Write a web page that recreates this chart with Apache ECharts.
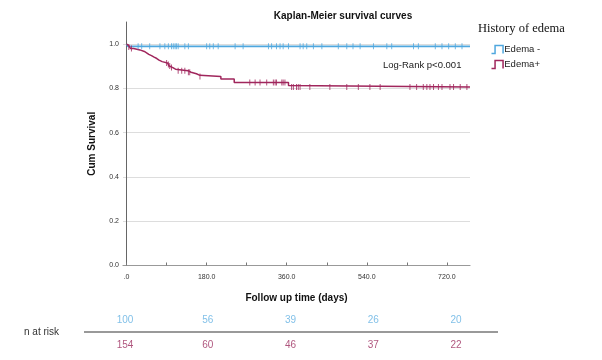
<!DOCTYPE html>
<html><head><meta charset="utf-8">
<script src="https://cdn.jsdelivr.net/npm/echarts@6/dist/echarts.min.js"></script>
<style>html,body{margin:0;padding:0;background:#fff}#c{width:602px;height:360px}</style>
</head><body><div id="c"></div>
<script>
// Kaplan-Meier step data: [time (days), cumulative survival after event]
const edemaNegTimes = [0, 3, 772];
const edemaNegSurv  = [1.0, 0.99, 0.99];
const edemaNegCensor = [26, 34, 52, 75, 86, 94, 101, 105, 109, 112, 116, 131, 139, 180, 187, 195, 206, 244, 262, 319, 326, 337, 345, 352, 364, 390, 397, 405, 420, 439, 476, 495, 509, 525, 555, 585, 596, 645, 656, 694, 709, 724, 739, 754];

const edemaPosTimes = [0, 2, 5, 9, 16, 30, 40, 45, 50, 56, 62, 68, 73, 80, 92, 96, 100, 104, 110, 138, 145, 157, 165, 212, 242, 364, 368, 772];
const edemaPosSurv  = [1.0, 0.993, 0.987, 0.980, 0.974, 0.967, 0.961, 0.954, 0.948, 0.941, 0.935, 0.928, 0.921, 0.915, 0.908, 0.901, 0.894, 0.887, 0.880, 0.873, 0.866, 0.859, 0.854, 0.843, 0.827, 0.813, 0.806, 0.806];
const edemaPosCensor = [5, 11, 90, 94, 97, 101, 116, 124, 131, 139, 142, 165, 277, 289, 300, 315, 330, 334, 337, 349, 352, 356, 371, 375, 382, 386, 390, 412, 457, 495, 521, 547, 570, 637, 652, 667, 675, 682, 690, 701, 709, 727, 735, 750, 765];

const xTicks = [0, 90, 180, 270, 360, 450, 540, 630, 720];
const xLabels = [0, 180, 360, 540, 720];
const yTicks = [0, 0.2, 0.4, 0.6, 0.8, 1.0];

const riskLabels = ['Edema -', 'Edema+'];
const riskNeg = [100, 56, 39, 26, 20];
const riskPos = [154, 60, 46, 37, 22];

const BLUE = '#4fa7de';
const RED = '#a0265c';

function survAt(times, surv, t) {
  let s = surv[0];
  for (let i = 0; i < times.length; i++) { if (times[i] <= t) s = surv[i]; else break; }
  return s;
}
const zip = (a, b) => a.map((v, i) => [v, b[i]]);
const censorPts = (c, times, surv) => c.map(t => [t, survAt(times, surv, t)]);

const font = 'Liberation Sans';
const chart = echarts.init(document.getElementById('c'), null, {renderer: 'canvas'});
chart.setOption({
  animation: false,
  textStyle: {fontFamily: font},
  title: [
    {text: 'Kaplan-Meier survival curves', left: 338, top: 6, textAlign: 'center',
     textStyle: {fontSize: 10, fontWeight: 'bold', color: '#111', fontFamily: font}},
    {text: 'History of edema', left: 473, top: 17,
     textStyle: {fontSize: 12.5, fontWeight: 'normal', color: '#111', fontFamily: 'Liberation Serif'}}
  ],
  legend: {
    orient: 'vertical', left: 484, top: 38, itemGap: 2, itemWidth: 14, itemHeight: 8,
    textStyle: {fontSize: 9.5, color: '#222', padding: [0, 0, 0, -5]},
    data: [
      {name: riskLabels[0], icon: 'path://M0,10 L4,10 L4,1 L13,1 L13,10', itemStyle: {color: 'none', borderColor: BLUE, borderWidth: 1.5}},
      {name: riskLabels[1], icon: 'path://M0,10 L4,10 L4,1 L13,1 L13,10', itemStyle: {color: 'none', borderColor: RED, borderWidth: 1.5}}
    ]
  },
  grid: [
    {left: 123, right: 132, top: 22, bottom: 94.5},
    {left: 125, width: 331, top: 320, height: 25}
  ],
  xAxis: [
    {type: 'value', gridIndex: 0, min: -8, max: 772,
     name: 'Follow up time (days)', nameLocation: 'middle', nameGap: 28,
     nameTextStyle: {fontSize: 10, fontWeight: 'bold', color: '#111'},
     axisLine: {show: true, onZero: false, lineStyle: {color: '#999', width: 1.2}},
     axisTick: {show: true, inside: true, length: 3, customValues: xTicks, lineStyle: {color: '#777'}},
     axisLabel: {customValues: xLabels, fontSize: 7, color: '#333', margin: 8,
       formatter: v => v === 0 ? '.0' : v.toFixed(1)},
     splitLine: {show: false}},
    {type: 'value', gridIndex: 1, min: 0, max: 4, show: false}
  ],
  yAxis: [
    {type: 'value', gridIndex: 0, min: 0, max: 1.1,
     name: 'Cum Survival', nameLocation: 'middle', nameGap: 26, nameRotate: 90,
     nameTextStyle: {fontSize: 10, fontWeight: 'bold', color: '#111'},
     axisLine: {show: true, lineStyle: {color: '#666', width: 1}},
     axisTick: {show: false, customValues: yTicks},
     axisLabel: {customValues: yTicks, fontSize: 7, color: '#333', margin: 4,
       formatter: v => v.toFixed(1)},
     splitLine: {show: true, lineStyle: {color: '#ddd', width: 1}}},
    {type: 'value', gridIndex: 1, min: 0, max: 1, show: false}
  ],
  series: [
    {name: riskLabels[0], type: 'line', step: 'end', symbol: 'none', data: zip(edemaNegTimes, edemaNegSurv),
     lineStyle: {color: BLUE, width: 1.8}, itemStyle: {color: BLUE}, z: 3},
    {name: riskLabels[1], type: 'line', step: 'end', symbol: 'none', data: zip(edemaPosTimes, edemaPosSurv),
     lineStyle: {color: RED, width: 1.5}, itemStyle: {color: RED}, z: 4},
    {name: riskLabels[0], type: 'scatter', symbol: 'rect', symbolSize: [1, 6],
     data: censorPts(edemaNegCensor, edemaNegTimes, edemaNegSurv), itemStyle: {color: BLUE}, z: 5},
    {name: riskLabels[1], type: 'scatter', symbol: 'rect', symbolSize: [1, 6],
     data: censorPts(edemaPosCensor, edemaPosTimes, edemaPosSurv), itemStyle: {color: RED}, z: 5},
    {type: 'scatter', xAxisIndex: 1, yAxisIndex: 1, symbolSize: 2, itemStyle: {color: 'rgba(0,0,0,0)'},
     silent: true, data: riskNeg.map((v, i) => [i, 1, v]),
     label: {show: true, position: 'inside', formatter: p => String(p.data[2]), fontSize: 10, color: '#62b0e2'}},
    {type: 'scatter', xAxisIndex: 1, yAxisIndex: 1, symbolSize: 2, itemStyle: {color: 'rgba(0,0,0,0)'},
     silent: true, data: riskPos.map((v, i) => [i, 0, v]),
     label: {show: true, position: 'inside', formatter: p => String(p.data[2]), fontSize: 10, color: '#9b2a5c'}}
  ],
  graphic: [
    {type: 'text', left: 383, top: 60, style: {text: 'Log-Rank p<0.001', fontSize: 9.5, fill: '#222', fontFamily: font}},
    {type: 'text', left: 24, top: 327, style: {text: 'n at risk', fontSize: 10, fill: '#333', fontFamily: font}},
    {type: 'line', shape: {x1: 84, y1: 332, x2: 498, y2: 332}, style: {stroke: '#777', lineWidth: 1.5}}
  ]
});
</script></body></html>
